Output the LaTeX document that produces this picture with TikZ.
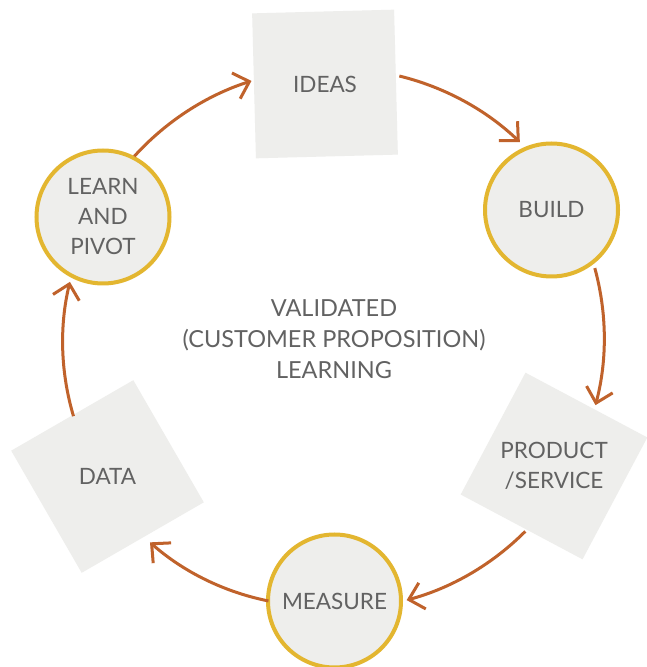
\documentclass[tikz,border=0pt]{standalone}
\usepackage{fontspec}
\setmainfont{Lato}
\usetikzlibrary{arrows.meta,calc}
\definecolor{arrowc}{HTML}{C0622B}
\definecolor{ringc}{HTML}{E3B630}
\definecolor{boxc}{HTML}{EEEEEC}
\definecolor{txtc}{HTML}{626262}
\begin{document}
\begin{tikzpicture}[x=1pt,y=1pt,
  lbl/.style={text=txtc, font=\fontsize{22.5}{30}\selectfont, align=center, inner sep=0pt},
  ring/.style={lbl, circle, draw=ringc, line width=4pt, fill=boxc, minimum size=133pt},
  sqbox/.style={rectangle, fill=boxc, inner sep=0pt},
  arr/.style={draw=arrowc, line width=3pt, -{Straight Barb[length=14pt,width=27pt]}, bend left=15, looseness=0.87}]
\useasboundingbox (0,0) rectangle (646,667);
\fill[white] (0,0) rectangle (646,667);
% boxes
\node[sqbox, minimum width=142pt, minimum height=145pt, rotate=1.5] (ideasSq) at (325,583) {};
\node[lbl] (ideas) at (ideasSq) {IDEAS};
\node[sqbox, minimum size=138pt, rotate=62] (prodSq) at (554,201) {};
\node[lbl] (prod) at (prodSq) {PRODUCT\\/SERVICE};
\node[sqbox, minimum size=141pt, rotate=30] (dataSq) at (107.5,190.5) {};
\node[lbl] (data) at (dataSq) {DATA};
% rings
\node[ring] (build) at (551.5,457) {BUILD};
\node[ring] (measure) at (334.5,66) {MEASURE};
\node[ring] (learn) at (103,450) {LEARN\\AND\\PIVOT};
% centre text
\node[lbl, font=\fontsize{23.5}{31}\selectfont] (centre) at (334,328) {VALIDATED\\(CUSTOMER PROPOSITION)\\LEARNING};
% arrow ends on the big circle
\coordinate (c) at (334,329);
\coordinate (a1s) at ($(c)+(137.7:270pt)$);
\coordinate (a1e) at ($(c)+(107.8:270pt)$);
\coordinate (a2s) at ($(c)+(76:270pt)$);
\coordinate (a2e) at ($(c)+(46.5:270pt)$);
\coordinate (a3s) at ($(c)+(15:270pt)$);
\coordinate (a3e) at ($(c)+(-14.4:270pt)$);
\coordinate (a4s) at ($(c)+(-45.3:272pt)$);
\coordinate (a4e) at ($(c)+(-74.5:272pt)$);
\coordinate (a5s) at ($(c)+(-104:271pt)$);
\coordinate (a5e) at ($(c)+(-132:275pt)$);
\coordinate (a6s) at ($(c)+(-163.3:272pt)$);
\coordinate (a6e) at ($(c)+(168:270pt)$);
\draw[arr] (a1s) to (a1e);
\draw[arr] (a2s) to (a2e);
\draw[arr] (a3s) to (a3e);
\draw[arr] (a4s) to (a4e);
\draw[arr] (a5s) to (a5e);
\draw[arr] (a6s) to (a6e);
\end{tikzpicture}
\end{document}
